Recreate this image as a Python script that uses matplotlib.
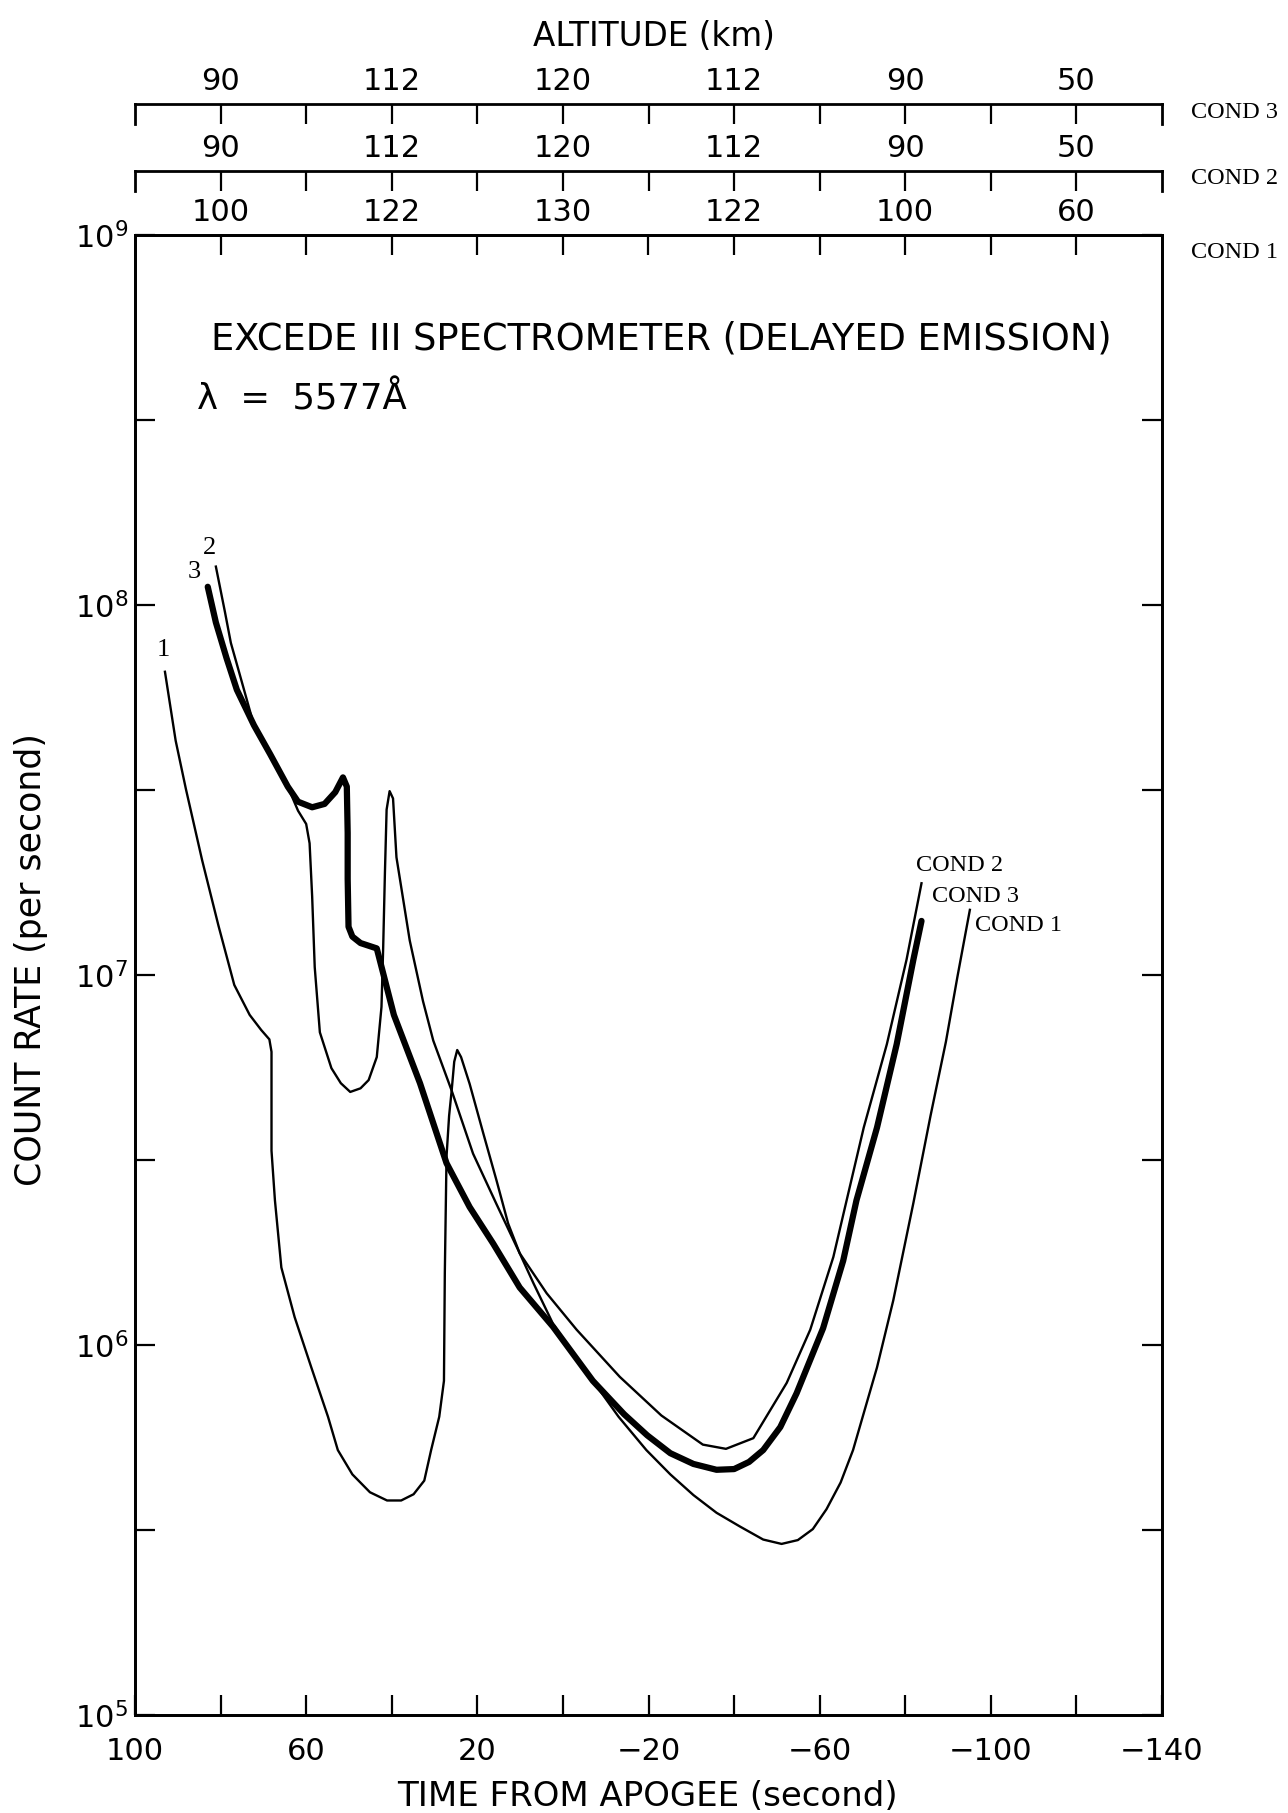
import matplotlib
matplotlib.use("Agg")
import matplotlib.pyplot as plt
from matplotlib.ticker import NullFormatter

# time from apogee (s) and count rate (per second)
t1 = [93.0, 90.5, 88.1, 84.3, 80.5, 76.8, 73.2, 70.5, 68.6, 68.1, 68.1, 67.3, 65.8, 62.7,
      58.8, 54.9, 52.6, 49.2, 45.1, 41.1, 37.8, 34.9, 32.4, 30.8, 28.9, 27.8, 27.6, 27.2,
      26.6, 26.0, 25.4, 24.7, 23.8, 21.8, 18.6, 15.5, 12.8, 10.1, 6.9, 2.3, -2.4, -7.0,
      -13.0, -19.5, -25.1, -30.5, -35.9, -41.4, -46.8, -51.1, -54.9, -58.4, -61.6, -64.9,
      -67.8, -73.4, -77.2, -81.9, -85.9, -89.5, -92.2, -95.1]
c1 = [6.6e7, 4.3e7, 3.18e7, 2.04e7, 1.36e7, 9.4e6, 7.8e6, 7.1e6, 6.7e6, 6.2e6, 3.35e6, 2.46e6,
      1.62e6, 1.19e6, 8.7e5, 6.4e5, 5.2e5, 4.47e5, 4.0e5, 3.8e5, 3.8e5, 3.95e5, 4.3e5, 5.2e5,
      6.4e5, 8.0e5, 1.56e6, 3.23e6, 4.16e6, 4.87e6, 5.83e6, 6.27e6, 6.0e6, 5.08e6, 3.73e6,
      2.78e6, 2.13e6, 1.77e6, 1.47e6, 1.14e6, 9.5e5, 8.0e5, 6.4e5, 5.2e5, 4.47e5, 3.93e5,
      3.52e5, 3.23e5, 2.98e5, 2.9e5, 2.97e5, 3.18e5, 3.6e5, 4.25e5, 5.2e5, 8.7e5, 1.32e6,
      2.42e6, 4.16e6, 6.6e6, 9.9e6, 1.5e7]

t2 = [81.1, 79.0, 77.6, 75.7, 72.2, 68.4, 64.3, 61.9, 60.0, 59.2, 58.6, 58.0, 56.8, 54.1,
      51.9, 49.7, 47.3, 45.4, 43.5, 42.4, 42.0, 41.6, 41.2, 40.5, 39.7, 38.9, 35.8, 32.7,
      30.3, 26.0, 21.0, 15.5, 10.1, 3.8, -3.2, -13.3, -23.0, -32.7, -38.1, -44.5, -52.3,
      -57.8, -63.2, -66.3, -70.3, -75.7, -80.3, -83.8]
c2 = [1.27e8, 9.6e7, 7.9e7, 6.6e7, 4.73e7, 3.95e7, 3.23e7, 2.78e7, 2.56e7, 2.27e7, 1.63e7,
      1.05e7, 7.0e6, 5.6e6, 5.1e6, 4.83e6, 4.94e6, 5.2e6, 6.0e6, 8.2e6, 1.19e7, 1.88e7, 2.8e7,
      3.14e7, 3.0e7, 2.08e7, 1.24e7, 8.5e6, 6.65e6, 4.87e6, 3.29e6, 2.4e6, 1.77e6, 1.38e6,
      1.1e6, 8.2e5, 6.45e5, 5.38e5, 5.24e5, 5.6e5, 7.9e5, 1.1e6, 1.73e6, 2.46e6, 3.87e6,
      6.5e6, 1.1e7, 1.77e7]

t3 = [83.0, 81.1, 78.6, 76.2, 72.2, 68.4, 64.3, 61.9, 58.6, 55.7, 53.2, 51.4, 50.5, 50.3,
      50.3, 50.1, 49.2, 47.3, 43.5, 39.5, 33.4, 27.2, 21.8, 16.3, 10.1, 2.3, -7.0, -14.3,
      -19.7, -25.1, -30.5, -35.9, -40.0, -43.5, -46.8, -50.8, -54.6, -60.8, -65.5, -68.6,
      -73.4, -78.0, -81.9, -83.8]
c3 = [1.12e8, 8.97e7, 7.18e7, 5.9e7, 4.73e7, 3.95e7, 3.23e7, 2.94e7, 2.84e7, 2.9e7, 3.12e7,
      3.42e7, 3.23e7, 2.42e7, 1.82e7, 1.35e7, 1.27e7, 1.22e7, 1.18e7, 7.8e6, 5.1e6, 3.1e6,
      2.36e6, 1.88e6, 1.43e6, 1.12e6, 8.0e5, 6.5e5, 5.7e5, 5.1e5, 4.77e5, 4.6e5, 4.62e5,
      4.83e5, 5.2e5, 6.0e5, 7.4e5, 1.11e6, 1.69e6, 2.46e6, 3.87e6, 6.5e6, 1.1e7, 1.4e7]

time_major = [100, 60, 20, -20, -60, -100, -140]
time_labels = ["100", "60", "20", "\u221220", "\u221260", "\u2212100", "\u2212140"]
time_minor = [80, 40, 0, -40, -80, -120]

alt_major = [80, 40, 0, -40, -80, -120]
alt_minor = [60, 20, -20, -60, -100]
alt_cond1 = ["100", "122", "130", "122", "100", "60"]
alt_cond2 = ["90", "112", "120", "112", "90", "50"]
alt_cond3 = ["90", "112", "120", "112", "90", "50"]

decades = [1e5, 1e6, 1e7, 1e8, 1e9]
decade_labels = [r"$\mathregular{10^{%d}}$" % k for k in range(5, 10)]
half_decades = [10 ** 5.5, 10 ** 6.5, 10 ** 7.5, 10 ** 8.5]

SANS = ["DejaVu Sans"]
SERIF = ["Liberation Serif", "DejaVu Serif"]
TL = 14.4   # tick length, pt
TS = 22     # tick label size

plt.rcParams["font.family"] = SANS
plt.rcParams["axes.linewidth"] = 2.0

fig = plt.figure(figsize=(12.88, 18.13), dpi=100)
W, H = 1288, 1813
ax = fig.add_axes([135 / W, 1 - 1715 / H, 1027 / W, 1480 / H])

ax.plot(t1, c1, color="black", lw=1.7)
ax.plot(t2, c2, color="black", lw=1.7)
ax.plot(t3, c3, color="black", lw=4.5, solid_capstyle="round", solid_joinstyle="round")

ax.set_yscale("log")
ax.set_xlim(100, -140)
ax.set_ylim(1e5, 1e9)
ax.set_xticks(time_major, time_labels)
ax.set_xticks(time_minor, minor=True)
ax.set_yticks(decades, decade_labels)
ax.set_yticks(half_decades, minor=True)
ax.yaxis.set_minor_formatter(NullFormatter())
ax.xaxis.set_minor_formatter(NullFormatter())
ax.tick_params(which="both", direction="in", length=TL, width=1.6, right=True, top=False)
ax.tick_params(axis="x", which="major", pad=16, labelsize=TS)
ax.tick_params(axis="y", which="major", pad=5, labelsize=TS)


def alt_row(a, labels):
    a.set_xlim(100, -140)
    a.set_xticks(alt_major, labels)
    a.set_xticks(alt_minor, minor=True)
    a.xaxis.set_minor_formatter(NullFormatter())
    a.tick_params(axis="x", which="both", direction="in", length=TL, width=1.6,
                  top=True, bottom=False, labeltop=True, labelbottom=False,
                  labelsize=TS, pad=6)


top1 = ax.twiny()
alt_row(top1, alt_cond1)

for y_line, labels in [(171, alt_cond2), (104, alt_cond3)]:
    a = fig.add_axes([135 / W, 1 - (y_line + 20) / H, 1027 / W, 20 / H])
    a.patch.set_visible(False)
    a.spines["bottom"].set_visible(False)
    a.set_yticks([])
    alt_row(a, labels)

for y_px, txt in [(112, "COND 3"), (179, "COND 2"), (252, "COND 1")]:
    fig.text(1191 / W, 1 - y_px / H, txt, family=SERIF, fontsize=17.5, va="center")

fig.text(654 / W, 1 - 36 / H, "ALTITUDE (km)", ha="center", va="center", fontsize=23.5)
fig.text(647 / W, 1 - 1797 / H, "TIME FROM APOGEE (second)", ha="center", va="center",
         fontsize=24.5)
fig.text(31 / W, 1 - 960 / H, "COUNT RATE (per second)", rotation=90, ha="center",
         va="center", fontsize=25)
fig.text(661 / W, 1 - 339 / H, "EXCEDE III SPECTROMETER (DELAYED EMISSION)", ha="center",
         va="center", fontsize=26.5)
fig.text(197 / W, 1 - 399 / H, "\u03bb  =  5577\u00c5", ha="left", va="center",
         fontsize=25.5)

# curve labels
ax.text(93.5, 7.55e7, "1", family=SERIF, fontsize=19, ha="center", va="center")
ax.text(82.7, 1.43e8, "2", family=SERIF, fontsize=19, ha="center", va="center")
ax.text(86.2, 1.23e8, "3", family=SERIF, fontsize=19, ha="center", va="center")
ax.text(-82.4, 1.98e7, "COND 2", family=SERIF, fontsize=17.5, ha="left", va="center")
ax.text(-86.2, 1.63e7, "COND 3", family=SERIF, fontsize=17.5, ha="left", va="center")
ax.text(-96.2, 1.36e7, "COND 1", family=SERIF, fontsize=17.5, ha="left", va="center")

fig.savefig("out.png", dpi=100)
